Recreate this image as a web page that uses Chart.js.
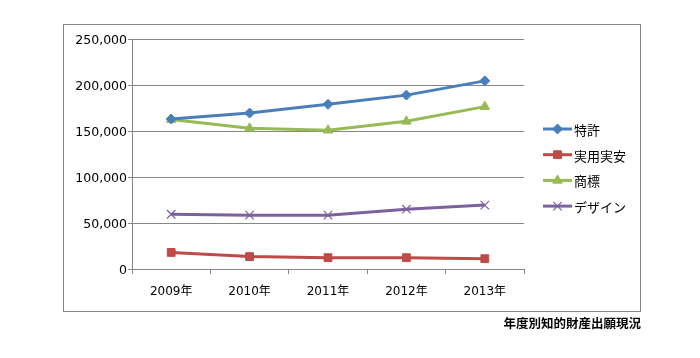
<!DOCTYPE html>
<html>
<head>
<meta charset="utf-8">
<script src="https://cdn.jsdelivr.net/npm/chart.js@4.4.0/dist/chart.umd.min.js"></script>
<style>
  html, body { margin: 0; padding: 0; background: #fff; }
  #wrap { width: 700px; height: 358px; position: relative; }
</style>
</head>
<body>
<div id="wrap"><canvas id="chart" width="700" height="358"></canvas></div>
<script>
// data
const years = ["2009年", "2010年", "2011年", "2012年", "2013年"];
const seriesNames = ["特許", "実用実安", "商標", "デザイン"];
const patent = [163000, 169500, 179000, 189000, 204500];
const utility = [18000, 13500, 12300, 12300, 11200];
const trademark = [162500, 153000, 150800, 160500, 176500];
const design = [59500, 58500, 58500, 65000, 69500];
const yTicksMax = 250000;
const yTicksStep = 50000;
const caption = "年度別知的財産出願現況";

const colors = ["#4A7EBB", "#BE4B48", "#98B954", "#7D60A0"];
const markers = ["rectRot", "rect", "triangle", "crossRot"];
const markerSize = [5, 5.5, 5.5, 6];
const axisColor = "#868686";

function makeSet(i, values) {
  return {
    label: seriesNames[i],
    data: values,
    borderColor: colors[i],
    backgroundColor: colors[i],
    borderWidth: 3,
    tension: 0,
    pointStyle: markers[i],
    pointRadius: markerSize[i],
    pointHoverRadius: markerSize[i],
    pointBorderWidth: markers[i] === "crossRot" ? 1.2 : 1,
    pointBackgroundColor: colors[i],
    pointBorderColor: colors[i],
  };
}

// outer frame, legend and caption
const decor = {
  id: "decor",
  afterDraw(chart) {
    const ctx = chart.ctx;
    ctx.save();
    ctx.strokeStyle = axisColor;
    ctx.lineWidth = 1;
    ctx.strokeRect(63.5, 24.5, 577, 287);

    chart.data.datasets.forEach((ds, i) => {
      const y = 129 + i * 25.7;
      ctx.strokeStyle = ds.borderColor;
      ctx.lineWidth = 3;
      ctx.beginPath();
      ctx.moveTo(543, y);
      ctx.lineTo(572, y);
      ctx.stroke();
      ctx.fillStyle = ds.backgroundColor;
      ctx.strokeStyle = ds.borderColor;
      ctx.lineWidth = ds.pointBorderWidth;
      Chart.helpers.drawPoint(ctx, {
        pointStyle: ds.pointStyle,
        rotation: 0,
        radius: ds.pointRadius,
        borderWidth: ds.pointBorderWidth,
      }, 557.5, y);
      ctx.fillStyle = "#000";
      ctx.font = "13px 'Noto Sans CJK JP'";
      ctx.textAlign = "left";
      ctx.textBaseline = "middle";
      ctx.fillText(ds.label, 574, y + 1);
    });

    ctx.fillStyle = "#000";
    ctx.font = "bold 12.5px 'Noto Sans CJK JP'";
    ctx.textAlign = "right";
    ctx.textBaseline = "middle";
    ctx.fillText(caption, 641, 323);
    ctx.restore();
  }
};

const ctx = document.getElementById("chart");

new Chart(ctx, {
  type: "line",
  data: {
    labels: years,
    datasets: [
      makeSet(0, patent),
      makeSet(1, utility),
      makeSet(2, trademark),
      makeSet(3, design),
    ],
  },
  options: {
    responsive: false,
    animation: false,
    layout: {
      padding: { left: 0, top: 39, right: 176, bottom: 49 },
    },
    plugins: {
      legend: { display: false },
      tooltip: { enabled: false },
    },
    scales: {
      x: {
        offset: true,
        afterFit: (s) => { s.height = 40; },
        grid: {
          offset: true,
          drawOnChartArea: false,
          drawTicks: true,
          tickLength: 5,
          color: axisColor,
        },
        border: { display: true, color: axisColor },
        ticks: {
          color: "#000",
          padding: 11,
          maxRotation: 0,
          font: { family: "'DejaVu Sans', 'Noto Sans CJK JP'", size: 12 },
        },
      },
      y: {
        min: 0,
        max: yTicksMax,
        afterFit: (s) => { s.width = 132; },
        grid: {
          color: axisColor,
          drawTicks: true,
          tickLength: 4,
        },
        border: { display: true, color: axisColor },
        ticks: {
          stepSize: yTicksStep,
          color: "#000",
          padding: 1,
          labelOffset: 1.5,
          font: { family: "'DejaVu Sans'", size: 12.5 },
          callback: (v) => v.toLocaleString("en-US"),
        },
      },
    },
  },
  plugins: [decor],
});
</script>
</body>
</html>
